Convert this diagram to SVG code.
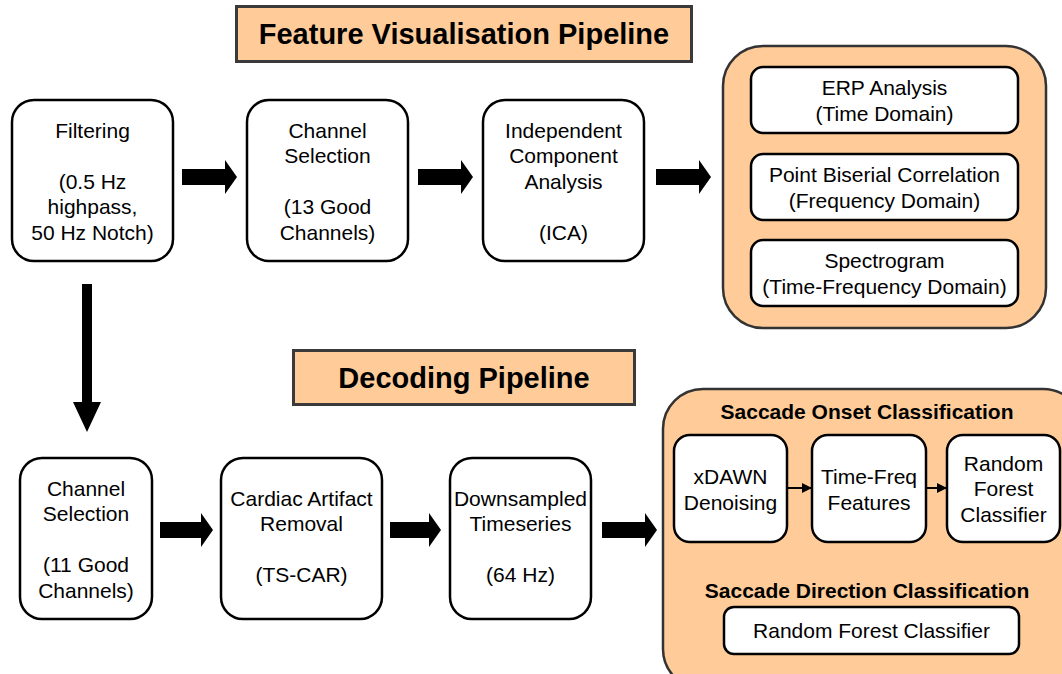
<svg xmlns="http://www.w3.org/2000/svg" width="1062" height="674" viewBox="0 0 1062 674">
  <defs>
    <style>
      .title { fill: #FFCC99; stroke: #3a3a3a; stroke-width: 3; }
      .group { fill: #FFCC99; stroke: #333; stroke-width: 2.5; }
      .box { fill: #fff; stroke: #000; stroke-width: 2.5; }
      text { font-family: "Liberation Sans", Arial, sans-serif; fill: #000; text-anchor: middle; }
      .t { font-size: 21px; }
      .h1 { font-size: 29px; font-weight: bold; }
      .h2 { font-size: 21px; font-weight: bold; }
      .big { fill: #000; }
      .thin { stroke: #000; stroke-width: 2; fill: none; }
    </style>
    <marker id="ah" viewBox="0 0 10 10" refX="9" refY="5" markerWidth="10" markerHeight="10" markerUnits="userSpaceOnUse" orient="auto">
      <path d="M0,0 L10,5 L0,10 Z" fill="#000"/>
    </marker>
  </defs>

  <!-- Section headers -->
  <g id="title-feature">
    <rect class="title" x="236.5" y="6.5" width="455" height="55"/>
    <text class="h1" x="464" y="44">Feature Visualisation Pipeline</text>
  </g>
  <g id="title-decoding">
    <rect class="title" x="293.5" y="350.5" width="341" height="54"/>
    <text class="h1" x="464" y="388">Decoding Pipeline</text>
  </g>

  <!-- Feature visualisation row -->
  <g id="filtering">
    <rect class="box" x="12" y="100" width="161" height="161" rx="22"/>
    <text class="t" x="92.5" y="138">Filtering</text>
    <text class="t" x="92.5" y="189">(0.5 Hz</text>
    <text class="t" x="92.5" y="214">highpass,</text>
    <text class="t" x="92.5" y="240">50 Hz Notch)</text>
  </g>
  <g id="channel-selection-13">
    <rect class="box" x="247" y="100" width="161" height="161" rx="22"/>
    <text class="t" x="327.5" y="138">Channel</text>
    <text class="t" x="327.5" y="163">Selection</text>
    <text class="t" x="327.5" y="214">(13 Good</text>
    <text class="t" x="327.5" y="240">Channels)</text>
  </g>
  <g id="ica">
    <rect class="box" x="483" y="100" width="161" height="161" rx="22"/>
    <text class="t" x="563.5" y="138">Independent</text>
    <text class="t" x="563.5" y="163">Component</text>
    <text class="t" x="563.5" y="189">Analysis</text>
    <text class="t" x="563.5" y="240">(ICA)</text>
  </g>
  <g id="analysis-group">
    <rect class="group" x="723" y="46" width="323" height="282" rx="40"/>
    <g id="erp">
      <rect class="box" x="751" y="67" width="267" height="66" rx="12"/>
      <text class="t" x="884.5" y="95">ERP Analysis</text>
      <text class="t" x="884.5" y="121">(Time Domain)</text>
    </g>
    <g id="pbc">
      <rect class="box" x="751" y="154" width="267" height="66" rx="12"/>
      <text class="t" x="884.5" y="182">Point Biserial Correlation</text>
      <text class="t" x="884.5" y="208">(Frequency Domain)</text>
    </g>
    <g id="spectrogram">
      <rect class="box" x="751" y="240" width="267" height="66" rx="12"/>
      <text class="t" x="884.5" y="268">Spectrogram</text>
      <text class="t" x="884.5" y="294">(Time-Frequency Domain)</text>
    </g>
  </g>

  <!-- Decoding row -->
  <g id="channel-selection-11">
    <rect class="box" x="20" y="458" width="132" height="161" rx="22"/>
    <text class="t" x="86" y="496">Channel</text>
    <text class="t" x="86" y="521">Selection</text>
    <text class="t" x="86" y="572">(11 Good</text>
    <text class="t" x="86" y="598">Channels)</text>
  </g>
  <g id="cardiac">
    <rect class="box" x="221" y="458" width="161" height="161" rx="22"/>
    <text class="t" x="301.5" y="506">Cardiac Artifact</text>
    <text class="t" x="301.5" y="531">Removal</text>
    <text class="t" x="301.5" y="582">(TS-CAR)</text>
  </g>
  <g id="downsampled">
    <rect class="box" x="450" y="458" width="141" height="161" rx="22"/>
    <text class="t" x="520.5" y="506">Downsampled</text>
    <text class="t" x="520.5" y="531">Timeseries</text>
    <text class="t" x="520.5" y="582">(64 Hz)</text>
  </g>
  <g id="classification-group">
    <rect class="group" x="663" y="389" width="420" height="300" rx="40"/>
    <text class="h2" x="867" y="419">Saccade Onset Classification</text>
    <g id="xdawn">
      <rect class="box" x="674" y="435" width="113" height="107" rx="16"/>
      <text class="t" x="730.5" y="484">xDAWN</text>
      <text class="t" x="730.5" y="510">Denoising</text>
    </g>
    <g id="timefreq">
      <rect class="box" x="812" y="435" width="114" height="107" rx="16"/>
      <text class="t" x="869" y="484">Time-Freq</text>
      <text class="t" x="869" y="510">Features</text>
    </g>
    <g id="rf-onset">
      <rect class="box" x="947" y="435" width="113" height="107" rx="16"/>
      <text class="t" x="1003.5" y="471">Random</text>
      <text class="t" x="1003.5" y="496">Forest</text>
      <text class="t" x="1003.5" y="522">Classifier</text>
    </g>
    <text class="h2" x="867" y="598">Saccade Direction Classification</text>
    <g id="rf-direction">
      <rect class="box" x="724" y="607" width="295" height="47" rx="10"/>
      <text class="t" x="871.5" y="638">Random Forest Classifier</text>
    </g>
  </g>

  <!-- Connectors -->
  <g id="connectors">
    <path class="big" d="M182,169 H225 V160 L237,177 L225,194 V185 H182 Z"/>
    <path class="big" d="M418,169 H461 V160 L473,177 L461,194 V185 H418 Z"/>
    <path class="big" d="M656,169 H699 V160 L711,177 L699,194 V185 H656 Z"/>
    <path class="big" d="M82,284 H92 V402 H101 L87,432 L73,402 H82 Z"/>
    <path class="big" d="M160,522 H201 V513 L213,530 L201,547 V538 H160 Z"/>
    <path class="big" d="M390,522 H429 V513 L441,530 L429,547 V538 H390 Z"/>
    <path class="big" d="M602,522 H645 V513 L657,530 L645,547 V538 H602 Z"/>
    <line class="thin" x1="787" y1="488" x2="811" y2="488" marker-end="url(#ah)"/>
    <line class="thin" x1="926" y1="488" x2="946" y2="488" marker-end="url(#ah)"/>
  </g>
</svg>
